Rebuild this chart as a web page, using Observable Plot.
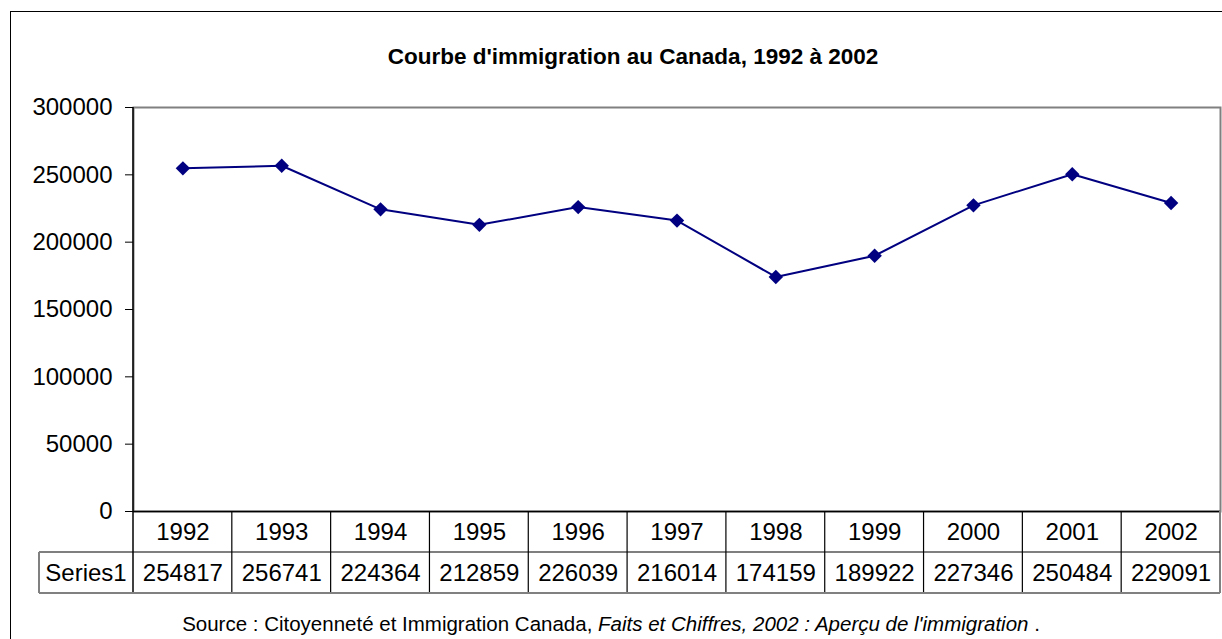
<!DOCTYPE html>
<html>
<head>
<meta charset="utf-8">
<script src="https://cdn.jsdelivr.net/npm/d3@7"></script>
<script src="https://cdn.jsdelivr.net/npm/@observablehq/plot@0.6"></script>
<style>
  html, body { margin: 0; padding: 0; background: #fff; overflow: hidden; }
  #wrap { position: relative; width: 1222px; height: 639px; font-family: "Liberation Sans", Arial, sans-serif; }
  #border { position: absolute; left: 10px; top: 11px; width: 1300px; height: 700px; border: 1.5px solid #000; box-sizing: border-box; }
  #title { position: absolute; top: 44px; left: 0; width: 1266px; text-align: center; font-weight: bold; font-size: 22.5px; line-height: 26px; color: #000; }
  #source { position: absolute; top: 612px; left: 0; width: 1222px; text-align: center; font-size: 20.5px; line-height: 24px; color: #000; white-space: nowrap; }
  #chart { position: absolute; left: 0; top: 0; }
</style>
</head>
<body>
<div id="wrap">
  <div id="border"></div>
  <div id="chart"></div>
  <div id="title"></div>
  <div id="source"></div>
</div>
<script>
const years = ["1992", "1993", "1994", "1995", "1996", "1997", "1998", "1999", "2000", "2001", "2002"];
const values = [254817, 256741, 224364, 212859, 226039, 216014, 174159, 189922, 227346, 250484, 229091];
const yTicks = [0, 50000, 100000, 150000, 200000, 250000, 300000];
const seriesName = "Series1";
const titleText = "Courbe d'immigration au Canada, 1992 à 2002";
const sourcePlain = "Source : Citoyenneté et Immigration Canada, ";
const sourceItalic = "Faits et Chiffres, 2002 : Aperçu de l'immigration";

const data = years.map((y, i) => ({year: y, value: values[i]}));
const font = "Liberation Sans, Arial, sans-serif";
const fs = 24;

const plot = Plot.plot({
  width: 1222,
  height: 639,
  marginLeft: 133,
  marginRight: 2,
  marginTop: 107,
  marginBottom: 128,
  style: {fontFamily: font, fontSize: fs + "px", background: "transparent", overflow: "visible"},
  x: {type: "band", domain: years, padding: 0, round: false, axis: null},
  y: {domain: [0, 300000], axis: null},
  marks: [
    Plot.frame({stroke: "#808080", strokeWidth: 2}),
    Plot.axisY({ticks: yTicks, tickSize: 8, tickPadding: 13, tickFormat: d => String(d), fontSize: fs, label: null, stroke: "#000"}),
    Plot.ruleY([0], {stroke: "#000", strokeWidth: 1.5}),
    Plot.line(data, {x: "year", y: "value", stroke: "#000080", strokeWidth: 2}),
    Plot.dot(data, {x: "year", y: "value", symbol: "diamond2", r: 6.5, fill: "#000080", stroke: "none"}),
    Plot.text(data, {x: "year", y: () => 0, text: "year", dy: 21, fontSize: fs, fill: "#000"}),
    Plot.text(data, {x: "year", y: () => 0, text: d => String(d.value), dy: 62, fontSize: fs, fill: "#000"})
  ]
});
document.getElementById("chart").appendChild(plot);

// table grid and left axis line, positioned from the plot's own scales
const xsc = plot.scale("x");
const ysc = plot.scale("y");
const bw = xsc.bandwidth;
const x0 = xsc.apply(years[0]);
const y0 = ysc.apply(0);
const yTop = ysc.apply(300000);
const row = 41;
const svg = d3.select(plot);
const g = svg.append("g").attr("stroke", "#000").attr("stroke-width", 1.2).attr("fill", "none");
// left axis line (black)
g.append("line").attr("x1", x0).attr("x2", x0).attr("y1", yTop).attr("y2", y0 + 2 * row).attr("stroke-width", 1.5);
// vertical column lines
years.forEach((y, i) => {
  const xr = xsc.apply(y) + bw;
  const last = i === years.length - 1;
  g.append("line").attr("x1", xr).attr("x2", xr).attr("y1", y0).attr("y2", y0 + 2 * row)
    .attr("stroke", last ? "#808080" : "#000").attr("stroke-width", last ? 2 : 1.2);
});
const xEnd = xsc.apply(years[years.length - 1]) + bw;
const labelLeft = x0 - 94;
// row separator
g.append("line").attr("x1", labelLeft).attr("x2", xEnd).attr("y1", y0 + row).attr("y2", y0 + row);
// bottom line
g.append("line").attr("x1", labelLeft).attr("x2", xEnd).attr("y1", y0 + 2 * row).attr("y2", y0 + 2 * row).attr("stroke", "#808080").attr("stroke-width", 2);
// label cell left
g.append("line").attr("x1", labelLeft).attr("x2", labelLeft).attr("y1", y0 + row).attr("y2", y0 + 2 * row).attr("stroke", "#808080").attr("stroke-width", 2);
svg.append("text").attr("x", (labelLeft + x0) / 2).attr("y", y0 + row + row / 2).attr("dy", "0.35em")
  .attr("text-anchor", "middle").attr("font-size", fs).attr("font-family", font).attr("fill", "#000").text(seriesName);

document.getElementById("title").textContent = titleText;
const src = document.getElementById("source");
src.appendChild(document.createTextNode(sourcePlain));
const it = document.createElement("i");
it.textContent = sourceItalic;
src.appendChild(it);
src.appendChild(document.createTextNode(" ."));
</script>
</body>
</html>
